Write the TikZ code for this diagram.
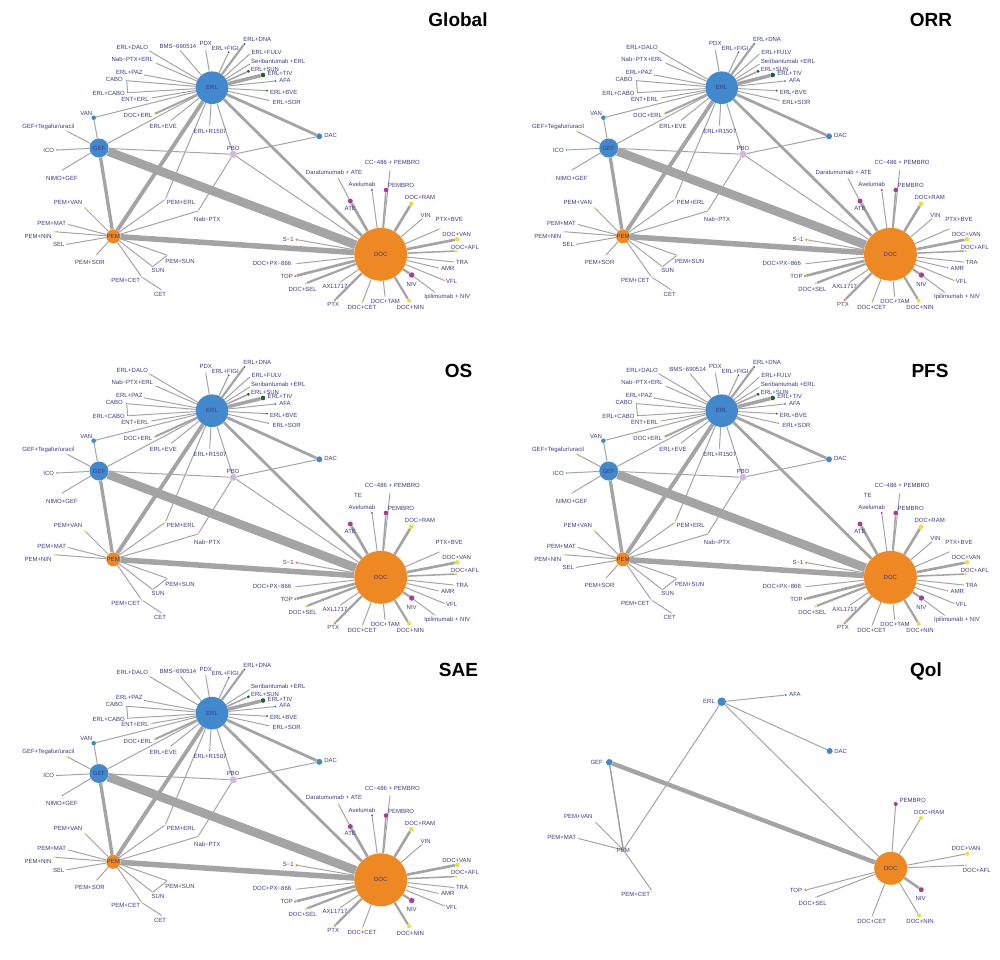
\documentclass[tikz,border=0pt]{standalone}
\usepackage{fontspec}
\setmainfont{Liberation Sans}
\usetikzlibrary{backgrounds}

\definecolor{netblue}{RGB}{66,136,204}
\definecolor{netorange}{RGB}{238,136,34}
\definecolor{netlilac}{RGB}{214,182,222}
\definecolor{netpurple}{RGB}{164,62,154}
\definecolor{netgreen}{RGB}{26,100,48}
\definecolor{netyellow}{RGB}{238,222,50}
\definecolor{netedge}{RGB}{164,164,164}
\definecolor{nettext}{RGB}{58,58,138}

\tikzset{
  hub/.style={circle,inner sep=0pt,minimum size=#1,font=\fontsize{6}{6}\selectfont,text=nettext},
  trt/.style={circle,inner sep=0pt,minimum size=#1},
  lbl/.style={font=\fontsize{6}{6}\selectfont,text=nettext,inner sep=0pt},
  lnk/.style={draw=netedge,line width={1.1*#1}},
  ttl/.style={font=\fontsize{19}{19}\selectfont\bfseries,inner sep=0pt}
}

\newcommand\netoff[1]{\expandafter\def\csname off@#1\endcsname{}}

% one treatment network (Global layout), nodes switched off with \netoff
\newcommand\netbase{%
  \node[hub=32.6pt,fill=netblue] (ERL) at (212,87.7) {ERL};
  \node[hub=19pt,fill=netblue] (GEF) at (99,148) {GEF};
  \node[hub=14pt,fill=netorange] (PEM) at (113.3,236.3) {PEM};
  \node[hub=53pt,fill=netorange] (DOC) at (380.7,254.3) {DOC};
  \foreach \sid/\sx/\sy/\sd/\scol/\slx/\sly/\stxt in {
    DALO/149/50.7/1/netedge/132.3/47.3/ERL+DALO,
    BMS/180.3/50.7/1/netedge/178/46.3/BMS−690514,
    PDX/205.7/50/1.2/netorange/205.7/43.7/PDX,
    FIGI/228.7/52.3/1.8/netgreen/225.3/48.3/ERL+FIGI,
    DNA/244.3/44/2/netgreen/257.3/39.7/ERL+DNA,
    FULV/249.3/54.3/1/netgreen/266.7/52.3/ERL+FULV,
    SERI/249.3/64.3/1/netgreen/278.3/61.3/Seribantumab +ERL,
    ESUN/248.3/71.3/3.2/netgreen/265/69/ERL+SUN,
    TIV/263/75/4.6/netgreen/280/73.7/ERL+TIV,
    AFA/275.3/81/2.4/netblue/285/80.3/AFA,
    BVE/267/90.7/2/netgreen/283.7/92.3/ERL+BVE,
    SOR/268.7/100.3/1/netgreen/286.7/102/ERL+SOR,
    NABE/155.7/63/1/netyellow/132.3/59.3/Nab−PTX+ERL,
    PAZ/144.7/75/1/netgreen/129.3/72.3/ERL+PAZ,
    CABO/126.7/80.7/1/netgreen/114.3/79.3/CABO,
    ECABO/127.7/92.7/1/netgreen/108.7/93.7/ERL+CABO,
    ENT/151/98/1.5/netyellow/135/99.3/ENT+ERL,
    DERL/154.3/114/1.5/netyellow/138/115.7/DOC+ERL,
    EVE/171.7/120/1/netgreen/163.3/126.7/ERL+EVE,
    R1507/209.7/125/1/netgreen/210/131.3/ERL+R1507,
    VAN/93.7/117.7/4.6/netblue/86.3/113/VAN,
    DAC/319.3/136.3/6/netblue/330.7/135.3/DAC,
    PBO/233.3/154.3/7/netlilac/233.3/148.3/PBO,
    TEGA/66.7/131/1.5/netyellow/48.3/126.7/{GEF+Tegafur/uracil},
    ICO/57/150/1.8/netblue/48.7/150.3/ICO,
    NIMO/62.3/170/1/netgreen/62/178/NIMO+GEF,
    PVAN/84.7/207.7/1.8/netyellow/68/202.7/PEM+VAN,
    PMAT/67.7/224.3/1.2/netyellow/51.7/223/PEM+MAT,
    PNIN/54.3/231.7/1.8/netyellow/38/236/PEM+NIN,
    SEL/66.7/244.3/1/netblue/58.7/244.7/SEL,
    PSOR/96/255.3/1/netyellow/90/262/PEM+SOR,
    PSUN/167.3/255.3/1/netyellow/180/261.3/PEM+SUN,
    SUN/152.7/266.7/1/netedge/158/270.7/SUN,
    PCET/141.7/277/2/netyellow/125.7/280.3/PEM+CET,
    CET/161.7/290/1/netedge/160/294.7/CET,
    PERL/165.3/199.3/1.8/netyellow/181/202.7/PEM+ERL,
    NABP/198/211/1.5/netorange/207.3/219/Nab−PTX,
    CC486/390/170/1/netedge/392.3/162.7/CC−486 + PEMBRO,
    DARA/338.3/178.3/1/netedge/334/172.3/Daratumumab + ATE,
    ATE/350.3/201/5/netpurple/350.3/208.3/ATE,
    AVE/372/190/2.4/netpurple/362/184.7/Avelumab,
    PEMB/386/190/4.6/netpurple/401/185.7/PEMBRO,
    DRAM/411.3/203.7/4.6/netyellow/420/197.7/DOC+RAM,
    VIN/422.3/218.7/1/netorange/425.7/215.7/VIN,
    PBVE/440/228.7/1.2/netyellow/449.3/219.3/PTX+BVE,
    DVAN/457.3/239.3/4.6/netyellow/456.7/234.7/DOC+VAN,
    DAFL/456/251/2.6/netyellow/465/247.3/DOC+AFL,
    TRA/454/262/1/netblue/462/262/TRA,
    AMR/437.7/267.7/1.8/netorange/447.7/268.3/AMR,
    VFL/444/280.3/1.8/netorange/451.7/281.7/VFL,
    NIV/411.7/275/5.4/netpurple/411.7/284.3/NIV,
    IPI/435/292.3/1/netedge/447.3/296.7/Ipilimumab + NIV,
    DNIN/409/300.7/4/netyellow/410.3/307.7/DOC+NIN,
    DTAM/385/296.7/1/netedge/385.3/301.3/DOC+TAM,
    DCET/362.3/302.7/1.6/netyellow/362/307/DOC+CET,
    PTX/335/300/2.6/netorange/333.3/304.7/PTX,
    AXL/340/282.3/1/netedge/335/286/AXL1717,
    DSEL/306/283.3/2.4/netyellow/302.7/289/DOC+SEL,
    TOP/295.3/276/2.6/netorange/286.7/276/TOP,
    DPX/296/263.7/1/netedge/272/263.3/DOC+PX−866,
    S1/296.7/239.7/2.6/netorange/288.3/239/S−1}{%
    \ifcsname off@\sid\endcsname\else
      \node[trt=\sd pt,fill=\scol] (\sid) at (\sx,\sy) {};
      \node[lbl] (l\sid) at (\slx,\sly) {\stxt};
    \fi}
  \begin{scope}[on background layer]
  \foreach \a/\b/\w in {
    ERL/DALO/.9, ERL/BMS/.9, ERL/PDX/.9, ERL/FIGI/1, ERL/DNA/2, ERL/FULV/.9,
    ERL/SERI/.9, ERL/ESUN/1.4, ERL/TIV/3.2, ERL/AFA/.9, ERL/BVE/.9, ERL/SOR/.9,
    ERL/NABE/.9, ERL/PAZ/.9, ERL/CABO/.9, ERL/ECABO/.9, CABO/ECABO/.9, ERL/ENT/.9,
    ERL/DERL/1.8, ERL/EVE/.9, ERL/R1507/.9, ERL/VAN/.9, ERL/GEF/.9, ERL/PEM/3.5,
    ERL/DAC/2.5, ERL/DOC/2.5, ERL/PBO/.9, ERL/PERL/.9,
    GEF/VAN/.9, GEF/TEGA/.9, GEF/ICO/.9, GEF/NIMO/.9, GEF/PEM/3, GEF/DOC/8, GEF/PBO/.9,
    PEM/PVAN/.9, PEM/PMAT/.9, PEM/PNIN/.9, PEM/SEL/.9, PEM/PSOR/.9, PEM/PSUN/.9,
    PEM/SUN/.9, SUN/PSUN/.9, PEM/PCET/.9, PCET/CET/.9, PEM/PERL/.9, PEM/NABP/.9,
    NABP/PBO/.9, PEM/DOC/5, PBO/DAC/.9, PBO/DOC/.9,
    DOC/CC486/.9, DARA/ATE/.9, DOC/ATE/2.5, DOC/AVE/.9, DOC/PEMB/1.4, DOC/DRAM/2.4,
    DOC/VIN/.9, DOC/PBVE/.9, DOC/DVAN/2.4, DOC/DAFL/1.4, DOC/TRA/.9, DOC/AMR/.9,
    DOC/VFL/.9, DOC/NIV/2, NIV/IPI/.9, DOC/DNIN/2, DOC/DTAM/.9, DOC/DCET/.9,
    DOC/PTX/2, DOC/AXL/.9, DOC/DSEL/2, DOC/TOP/2.4, DOC/DPX/.9, DOC/S1/.9}{%
    \ifcsname off@\a\endcsname\else\ifcsname off@\b\endcsname\else\ifcsname off@\a\b\endcsname\else
      \draw[lnk=\w pt] (\a) -- (\b);
    \fi\fi\fi}
  \end{scope}%
}

\begin{document}
\begin{tikzpicture}[x=1pt,y=-1pt]
\useasboundingbox (0,0) rectangle (1000,959);

\node[ttl] (tglobal) at (458,20) {Global};
\node[ttl] (torr) at (931,20) {ORR};
\node[ttl] (tos) at (458.5,371) {OS};
\node[ttl] (tpfs) at (930,371) {PFS};
\node[ttl] (tsae) at (458.5,670) {SAE};
\node[ttl] (tqol) at (926,671.5) {Qol};

\begin{scope}[name prefix=g-]
  \netbase
\end{scope}

\begin{scope}[shift={(509.7,0)},name prefix=o-]
  \netoff{BMS}\netbase
\end{scope}

\begin{scope}[shift={(0,323)},name prefix=s-]
  \netoff{BMS}\netoff{SEL}\netoff{PSOR}\netoff{VIN}\netoff{DARA}\netbase
  \node[lbl] (TE) at (358,172.7) {TE};
\end{scope}

\begin{scope}[shift={(509.7,323)},name prefix=p-]
  \netoff{DARA}\netoff{PBODOC}\netbase
  \node[lbl] (TE) at (358,172.7) {TE};
\end{scope}

\begin{scope}[shift={(0,625.5)},name prefix=a-]
  \netoff{FULV}\netoff{NABE}\netoff{PBVE}\netoff{IPI}\netoff{DTAM}\netoff{PBODOC}\netbase
\end{scope}

% QoL network
\begin{scope}[name prefix=q-]
  \foreach \sid/\sx/\sy/\sd/\scol/\slx/\sly/\stxt in {
    ERL/721.7/701.7/8.6/netblue/709/701.7/ERL,
    AFA/785.7/695/2.4/netblue/795/694.7/AFA,
    DAC/829.7/751/6/netblue/840.7/751.3/DAC,
    GEF/609.3/762.3/6.6/netblue/596.7/762.3/GEF,
    PEM/623.3/850/3/netorange/623.3/850/PEM,
    PVAN/595/821.7/1.4/netyellow/578.3/816.7/PEM+VAN,
    PMAT/577.7/838.3/1/netyellow/561.7/837.3/PEM+MAT,
    PCET/652/891/1.8/netyellow/635.7/894.3/PEM+CET,
    DOC/890.7/868.3/33/netorange/890.7/868.3/DOC,
    PEMB/895.7/804/4/netpurple/912.7/800/PEMBRO,
    DRAM/921/818/4/netyellow/929.3/812/DOC+RAM,
    DVAN/967.3/853.7/4/netyellow/966/848.3/DOC+VAN,
    DAFL/965.7/865.3/2.6/netyellow/976.7/870.3/DOC+AFL,
    NIV/921.3/889.7/5/netpurple/920.7/898/NIV,
    DNIN/919/915.3/4/netyellow/920/921.7/DOC+NIN,
    DCET/872/916.7/1/netyellow/871.7/921/DOC+CET,
    TOP/805.7/890/2.6/netorange/796/890/TOP,
    DSEL/815.7/897.3/1.6/netyellow/812.7/903.3/DOC+SEL}{%
    \node[trt=\sd pt,fill=\scol] (\sid) at (\sx,\sy) {};
    \node[lbl] (l\sid) at (\slx,\sly) {\stxt};}
  \begin{scope}[on background layer]
  \foreach \a/\b/\w in {ERL/AFA/.9, ERL/DAC/.9, ERL/DOC/.9, ERL/PEM/.9, GEF/DOC/4,
    GEF/PEM/1.4, PEM/PVAN/.9, PEM/PMAT/.9, PEM/PCET/.9, DOC/PEMB/.9, DOC/DRAM/.9,
    DOC/DVAN/.9, DOC/DAFL/.9, DOC/NIV/2.4, DOC/DNIN/.9, DOC/DCET/.9, DOC/TOP/.9,
    DOC/DSEL/.9}
    \draw[lnk=\w pt] (\a) -- (\b);
  \end{scope}
\end{scope}
\end{tikzpicture}
\end{document}
